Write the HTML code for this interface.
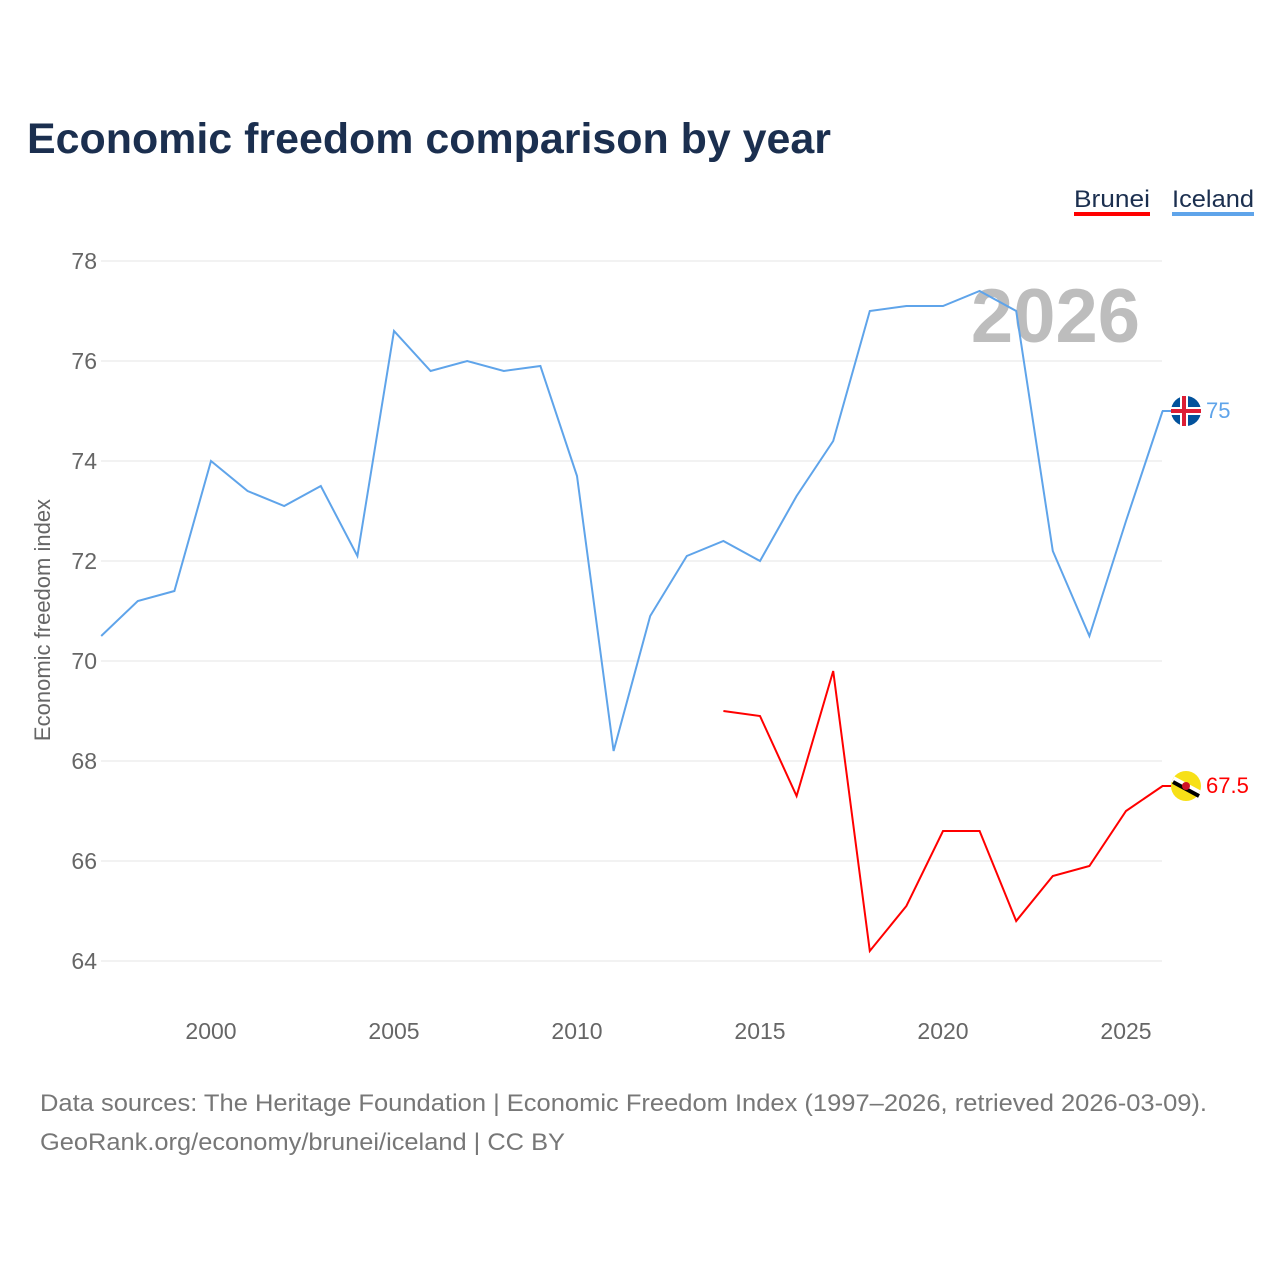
<!DOCTYPE html>
<html><head><meta charset="utf-8"><style>
body{margin:0;background:#fff;font-family:"Liberation Sans",sans-serif}
</style></head><body>
<svg id="chart" width="1280" height="1280" viewBox="0 0 1280 1280" xmlns="http://www.w3.org/2000/svg">
<text x="27" y="153" font-size="43" font-weight="bold" fill="#1b2f4f" textLength="804" lengthAdjust="spacingAndGlyphs">Economic freedom comparison by year</text>
<g>
<g><text x="1074" y="207" font-size="24" fill="#1b2f4f" textLength="76" lengthAdjust="spacingAndGlyphs">Brunei</text><rect x="1074" y="212" width="76" height="4" fill="#ff0000"/></g>
<g><text x="1172" y="207" font-size="24" fill="#1b2f4f" textLength="82" lengthAdjust="spacingAndGlyphs">Iceland</text><rect x="1172" y="212" width="82" height="4" fill="#5fa4ea"/></g>
</g>
<g id="grid"></g>
<g id="yticks"></g>
<g id="xticks"></g>
<text x="1140" y="342" font-size="76" font-weight="bold" fill="#bdbdbd" text-anchor="end">2026</text>
<text transform="translate(50,620) rotate(-90)" font-size="22" fill="#666" text-anchor="middle">Economic freedom index</text>
<g id="series"></g>
<text x="40" y="1111" font-size="24" fill="#777" textLength="1167" lengthAdjust="spacingAndGlyphs">Data sources: The Heritage Foundation | Economic Freedom Index (1997–2026, retrieved 2026-03-09).</text>
<text x="40" y="1150" font-size="24" fill="#777" textLength="525" lengthAdjust="spacingAndGlyphs">GeoRank.org/economy/brunei/iceland | CC BY</text>
</svg>
<script>
const icelandYears=[1997,1998,1999,2000,2001,2002,2003,2004,2005,2006,2007,2008,2009,2010,2011,2012,2013,2014,2015,2016,2017,2018,2019,2020,2021,2022,2023,2024,2025,2026];
const icelandValues=[70.5,71.2,71.4,74.0,73.4,73.1,73.5,72.1,76.6,75.8,76.0,75.8,75.9,73.7,68.2,70.9,72.1,72.4,72.0,73.3,74.4,77.0,77.1,77.1,77.4,77.0,72.2,70.5,72.8,75.0];
const bruneiYears=[2014,2015,2016,2017,2018,2019,2020,2021,2022,2023,2024,2025,2026];
const bruneiValues=[69.0,68.9,67.3,69.8,64.2,65.1,66.6,66.6,64.8,65.7,65.9,67.0,67.5];
const yTicks=[64,66,68,70,72,74,76,78];
const xTicks=[2000,2005,2010,2015,2020,2025];
const NS="http://www.w3.org/2000/svg";
const x=v=>101.2+(v-1997)*36.6;
const y=v=>261+(78-v)*50;
function mk(tag,attrs,parent){const e=document.createElementNS(NS,tag);for(const k in attrs)e.setAttribute(k,attrs[k]);parent.appendChild(e);return e;}
const grid=document.getElementById('grid'),yt=document.getElementById('yticks'),xt=document.getElementById('xticks'),ser=document.getElementById('series');
yTicks.forEach(t=>{
 const l=mk('line',{x1:101,x2:1162,y1:y(t),y2:y(t),stroke:'#e6e6e6','stroke-width':1},grid);
 
 
 const tx=mk('text',{x:97,y:y(t)+8,'font-size':23,fill:'#666','text-anchor':'end'},yt);tx.textContent=t;
 
 
});
xTicks.forEach(t=>{
 const tx=mk('text',{x:x(t),y:1039,'font-size':23,fill:'#666','text-anchor':'middle'},xt);tx.textContent=t;
 
 
});
function line(years,vals,color,name){
 const d=years.map((yr,i)=>(i?'L':'M')+x(yr)+','+y(vals[i])).join(' ');
 const p=mk('path',{d:d,fill:'none',stroke:color,'stroke-width':2},ser);
 
 
}
line(icelandYears,icelandValues,'#5fa4ea','iceland-line');
line(bruneiYears,bruneiValues,'#ff0000','brunei-line');
const iv=icelandValues[icelandValues.length-1],bv=bruneiValues[bruneiValues.length-1];
const iy=y(iv),by=y(bv);
mk('line',{x1:1162,x2:1172,y1:iy,y2:iy,stroke:'#5fa4ea','stroke-width':2},ser);
mk('line',{x1:1162,x2:1172,y1:by,y2:by,stroke:'#ff0000','stroke-width':2},ser);
const fi=mk('g',{},ser);


mk('circle',{cx:1186,cy:iy,r:15,fill:'#02529c'},fi);
mk('rect',{x:1171,y:iy-4,width:30,height:8,fill:'#fff'},fi);
mk('rect',{x:1180,y:iy-15,width:8,height:30,fill:'#fff'},fi);
mk('rect',{x:1171,y:iy-2,width:30,height:4,fill:'#dc1e35'},fi);
mk('rect',{x:1182,y:iy-15,width:4,height:30,fill:'#dc1e35'},fi);
const fb=mk('g',{},ser);


mk('circle',{cx:1186,cy:by,r:15,fill:'#f7e017'},fb);
mk('line',{x1:1173,y1:by-7,x2:1199,y2:by+7,stroke:'#fff','stroke-width':6},fb);
mk('line',{x1:1173,y1:by-4,x2:1199,y2:by+10,stroke:'#000','stroke-width':4},fb);
mk('circle',{cx:1186,cy:by,r:4,fill:'#cf1126'},fb);
const li=mk('text',{x:1206,y:iy+7,'font-size':22,fill:'#5fa4ea'},ser);li.textContent=iv;


const lb=mk('text',{x:1206,y:by+7,'font-size':22,fill:'#ff0000'},ser);lb.textContent=bv;


</script>
</body></html>
